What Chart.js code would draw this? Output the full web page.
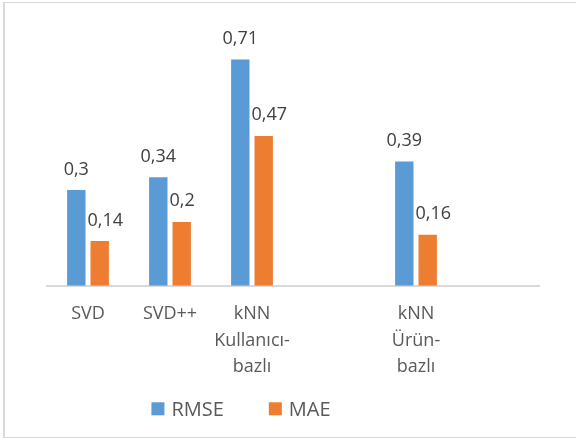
<!DOCTYPE html>
<html>
<head>
<meta charset="utf-8">
<script src="https://cdn.jsdelivr.net/npm/chart.js@4/dist/chart.umd.min.js"></script>
<style>
  html, body { margin: 0; padding: 0; background: #ffffff; }
  #wrap { position: relative; width: 576px; height: 441px; overflow: hidden; background: #ffffff; }
  #frame { position: absolute; left: 3px; top: 2px; width: 620px; height: 436px;
           border: 1px solid #d9d9d9; border-left-width: 2px; box-sizing: border-box; }
  canvas { position: absolute; left: 0; top: 0; }
</style>
</head>
<body>
<div id="wrap">
  <div id="frame"></div>
  <canvas id="chart" width="576" height="441"></canvas>
</div>
<script>
// Algorithm names (two empty slots keep the spacing of the grouped layout)
const categories = ['SVD', 'SVD++', ['kNN', 'Kullanıcı-', 'bazlı'], '', ['kNN', 'Ürün-', 'bazlı'], ''];
const seriesNames = ['RMSE', 'MAE'];
const rmseValues = [0.3, 0.34, 0.71, null, 0.39, null];
const maeValues = [0.14, 0.2, 0.47, null, 0.16, null];

const BLUE = '#5B9BD5';
const ORANGE = '#ED7D31';
const FONT = '"Open Sans", "Noto Sans", sans-serif';

const fmt = v => String(v).replace('.', ',');

// Value labels above each bar, nudged right when they would run into the neighbouring bar
const valueLabels = {
  id: 'valueLabels',
  afterDatasetsDraw(chart) {
    const ctx = chart.ctx;
    ctx.save();
    ctx.font = '18px ' + FONT;
    ctx.fillStyle = '#404040';
    ctx.textBaseline = 'alphabetic';
    ctx.textAlign = 'left';
    chart.data.datasets.forEach((ds, di) => {
      const meta = chart.getDatasetMeta(di);
      meta.data.forEach((bar, i) => {
        const v = ds.data[i];
        if (v === null || v === undefined) return;
        const txt = fmt(v);
        const w = ctx.measureText(txt).width;
        let left = bar.x - w / 2;
        if (di > 0) {
          const prev = chart.getDatasetMeta(di - 1).data[i];
          if (prev && chart.data.datasets[di - 1].data[i] != null) {
            const prevRight = prev.x + prev.width / 2 + 2;
            if (left < prevRight) left = prevRight;
          }
        }
        ctx.fillText(txt, left, bar.y - 15.5);
      });
    });
    ctx.restore();
  }
};

// Legend drawn under the axis labels
const bottomLegend = {
  id: 'bottomLegend',
  afterDraw(chart) {
    const ctx = chart.ctx;
    ctx.save();
    ctx.font = '20px ' + FONT;
    const box = 13, gap = 7, spacing = 45, centerX = 241, baseY = 416;
    const items = chart.data.datasets.map(ds => ({
      label: ds.label, color: ds.backgroundColor, w: ctx.measureText(ds.label).width
    }));
    const total = items.reduce((s, it) => s + box + gap + it.w, 0) + spacing * (items.length - 1);
    let x = centerX - total / 2;
    items.forEach(it => {
      ctx.fillStyle = it.color;
      ctx.fillRect(x, baseY - 13.7, box, box);
      ctx.fillStyle = '#595959';
      ctx.textBaseline = 'alphabetic';
      ctx.textAlign = 'left';
      ctx.fillText(it.label, x + box + gap, baseY);
      x += box + gap + it.w + spacing;
    });
    ctx.restore();
  }
};

new Chart(document.getElementById('chart'), {
  type: 'bar',
  data: {
    labels: categories,
    datasets: [
      { label: seriesNames[0], data: rmseValues, backgroundColor: BLUE },
      { label: seriesNames[1], data: maeValues, backgroundColor: ORANGE }
    ]
  },
  options: {
    responsive: false,
    animation: false,
    devicePixelRatio: 1,
    layout: { padding: { left: 47, right: 37, top: 30.7, bottom: 0 } },
    datasets: {
      bar: { categoryPercentage: 0.571, barPercentage: 0.786, skipNull: false }
    },
    plugins: {
      legend: { display: false },
      tooltip: { enabled: false }
    },
    scales: {
      y: {
        display: false,
        min: 0,
        max: 0.8
      },
      x: {
        grid: { display: false, drawTicks: false },
        border: { display: true, color: '#d9d9d9', width: 2 },
        ticks: {
          color: '#595959',
          font: { family: FONT, size: 18, lineHeight: 1.48 },
          padding: 15,
          maxRotation: 0,
          autoSkip: false
        },
        afterFit(scale) { scale.height = 441 - 285.7; }
      }
    }
  },
  plugins: [valueLabels, bottomLegend]
});
</script>
</body>
</html>
